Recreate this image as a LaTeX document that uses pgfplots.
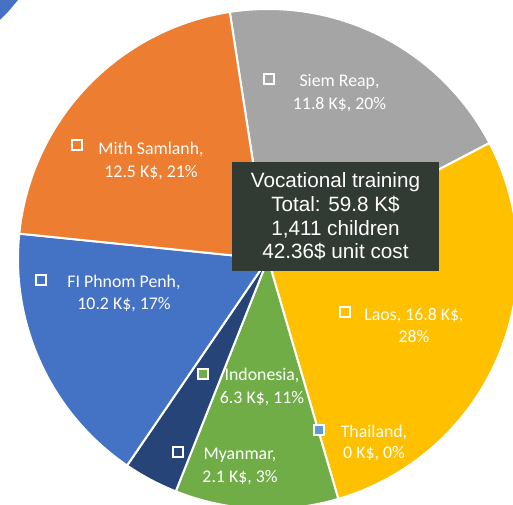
\documentclass[border=0pt]{standalone}
\usepackage{fontspec}
\usepackage{pgfplots}
\pgfplotsset{compat=1.18}
\newfontfamily\calibri{Carlito}
\newfontfamily\arial{Liberation Sans}
\definecolor{cOrange}{HTML}{ED7D31}
\definecolor{cGray}{HTML}{A5A5A5}
\definecolor{cYellow}{HTML}{FFC000}
\definecolor{cBlue}{HTML}{4472C4}
\definecolor{cGreen}{HTML}{70AD47}
\definecolor{cDark}{HTML}{264478}
\definecolor{cLight}{HTML}{5B9BD5}
\definecolor{cBox}{HTML}{323B33}
% values (K$), clockwise order
\def\vSiem{11.8}\def\vLaos{16.8}\def\vThai{0}\def\vIndo{6.3}\def\vMyan{2.1}\def\vFI{10.2}\def\vMith{12.5}
\pgfmathsetmacro\tot{\vSiem+\vLaos+\vThai+\vIndo+\vMyan+\vFI+\vMith}
\pgfmathsetmacro\aA{-8.8}
\pgfmathsetmacro\aB{\aA+360*\vSiem/\tot}
\pgfmathsetmacro\aC{\aB+360*\vLaos/\tot}
\pgfmathsetmacro\aD{\aC+360*\vThai/\tot}
\pgfmathsetmacro\aE{\aD+360*\vIndo/\tot}
\pgfmathsetmacro\aF{\aE+360*\vMyan/\tot}
\pgfmathsetmacro\aG{\aF+360*\vFI/\tot}
\pgfmathsetmacro\aH{\aG+360*\vMith/\tot}
\def\cx{268}\def\cy{245}\def\rr{250}
\newcommand\slice[3]{%
  \addplot[fill=#1, draw=white, line width=2pt, domain=#2:#3, samples=90, variable=\t]
   ({\cx+\rr*sin(\t)},{\cy+\rr*cos(\t)}) -- (axis cs:\cx,\cy) -- cycle;}
\pgfplotsset{key/.style={only marks, mark=square*, mark size=4.7pt, mark options={draw=white, line width=2.3pt, fill=#1}}}
\begin{document}
\begin{tikzpicture}
\clip (0,0) rectangle (513pt,504pt);
\begin{axis}[x=1pt, y=1pt, xmin=0, xmax=513, ymin=0, ymax=504, hide axis,
  anchor=south west, at={(0,0)}, clip=true]
\addplot[fill=cBlue, draw=none] coordinates {(0,504) (18,504) (13,498) (7,491) (0,484)} -- cycle;
\slice{cGray}{\aA}{\aB}
\slice{cYellow}{\aB}{\aC}
\slice{cGreen}{\aD}{\aE}
\slice{cDark}{\aE}{\aF}
\slice{cBlue}{\aF}{\aG}
\slice{cOrange}{\aG}{\aH}
% label keys
\addplot[key=cGray] coordinates {(269,425)};
\addplot[key=cOrange] coordinates {(77,359)};
\addplot[key=cBlue] coordinates {(41,224)};
\addplot[key=cYellow] coordinates {(345,192)};
\addplot[key=cGreen] coordinates {(203,130)};
\addplot[key=cLight] coordinates {(319,74)};
\addplot[key=cDark] coordinates {(178,52)};
% labels
\begin{scope}[every node/.style={text=white, font=\calibri\fontsize{17.8}{21}\selectfont, anchor=base, inner sep=0pt}]
\node at (axis cs:339.5,417) {Siem Reap,};
\node at (axis cs:339.5,394) {11.8 K\$, 20\%};
\node at (axis cs:151,349) {Mith Samlanh,};
\node at (axis cs:151,327) {12.5 K\$, 21\%};
\node at (axis cs:124,217) {FI Phnom Penh,};
\node at (axis cs:124,195) {10.2 K\$, 17\%};
\node at (axis cs:414,184) {Laos, 16.8 K\$,};
\node at (axis cs:414,162) {28\%};
\node at (axis cs:262,124) {Indonesia,};
\node at (axis cs:262,101) {6.3 K\$, 11\%};
\node at (axis cs:374,67) {Thailand,};
\node at (axis cs:374,46) {0 K\$, 0\%};
\node at (axis cs:240,45) {Myanmar,};
\node at (axis cs:240,22) {2.1 K\$, 3\%};
\end{scope}
\node[fill=cBox, text=white, inner sep=0pt, minimum width=207pt, minimum height=109pt,
  align=center, font=\arial\fontsize{20.7}{23.7}\selectfont] at (axis cs:335.5,287.5)
  {Vocational training\\Total: 59.8 K\$\\1,411 children\\42.36\$ unit cost};
\end{axis}
\end{tikzpicture}
\end{document}
